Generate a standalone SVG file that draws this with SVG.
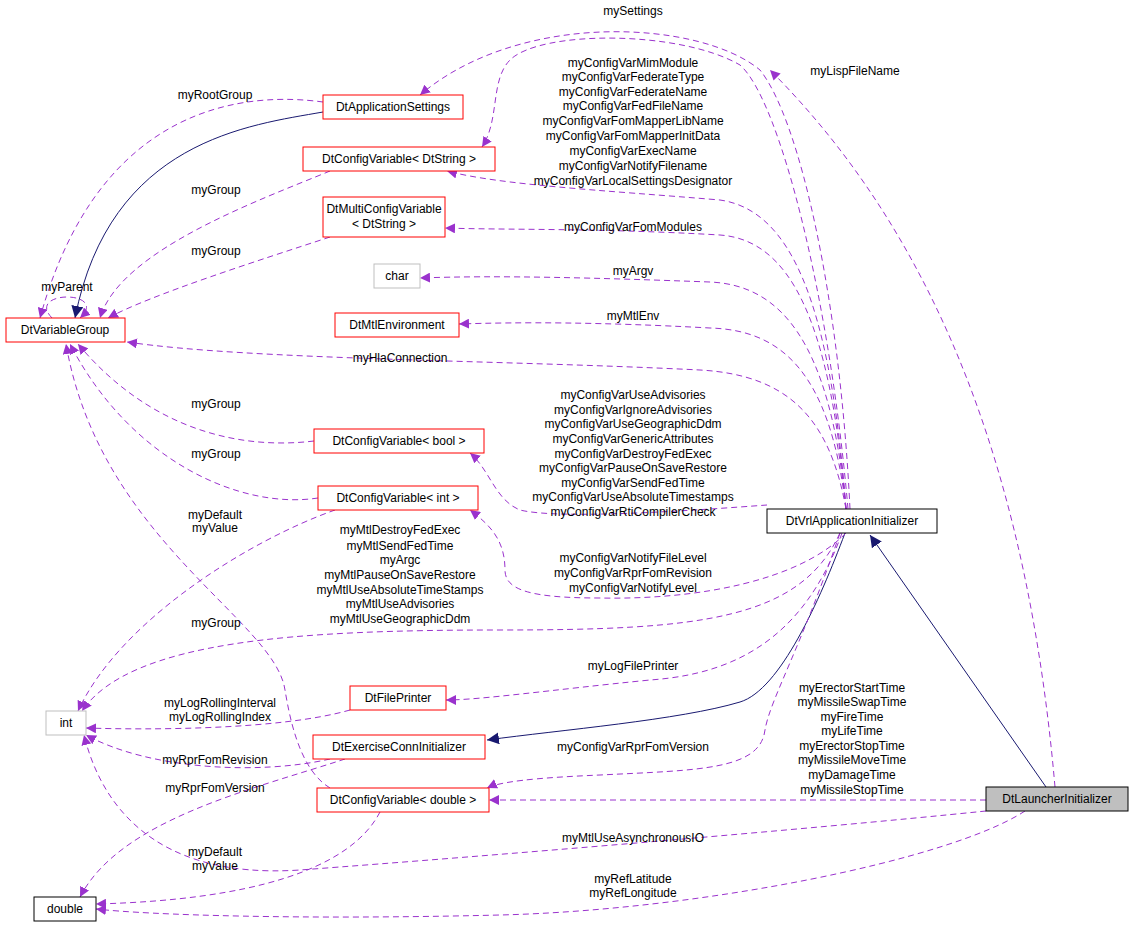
<svg xmlns="http://www.w3.org/2000/svg" width="1133" height="928" viewBox="0 0 1133 928">
<style>
text{font-family:"Liberation Sans",Arial,sans-serif;font-size:12px;fill:#000;text-anchor:middle}
.n{fill:#fff;stroke:#ff0000;stroke-width:1}
.g{fill:#fff;stroke:#bfbfbf;stroke-width:1}
.b{fill:#fff;stroke:#000;stroke-width:1}
.d{fill:none;stroke:#9a32cd;stroke-dasharray:6,4;marker-end:url(#pa)}
.s{fill:none;stroke:#191970;marker-end:url(#na)}
</style>
<defs>
<marker id="pa" viewBox="0 0 10 10" refX="10" refY="5" markerWidth="10" markerHeight="10" markerUnits="userSpaceOnUse" orient="auto"><path d="M0,0L10,5L0,10z" fill="#9a32cd"/></marker>
<marker id="na" viewBox="0 0 10 10" refX="10" refY="5" markerWidth="12" markerHeight="12" markerUnits="userSpaceOnUse" orient="auto"><path d="M0,0L10,5L0,10z" fill="#191970"/></marker>
</defs>
<rect width="1133" height="928" fill="#fff"/>
<g id="edges">
<path class="s" d="M1046,787L870,535"/>
<path class="s" d="M845,533C820,600 780,690 740,702C680,720 560,730 487,740"/>
<path class="s" d="M323,112C250,125 110,140 75,318"/>
<path class="d" d="M323,102C250,92 100,100 40,318"/>
<path class="d" d="M52,318C25,290 110,290 80,318"/>
<path class="d" d="M330,171C260,200 120,250 100,318"/>
<path class="d" d="M330,237C260,260 150,295 108,318"/>
<path class="d" d="M846,509C830,420 790,375 700,370C500,360 250,360 127,342"/>
<path class="d" d="M314,441C240,450 150,430 78,344"/>
<path class="d" d="M318,498C240,510 130,460 70,344"/>
<path class="d" d="M330,788C300,770 290,720 285,690C275,620 100,540 66,344"/>
<path class="d" d="M850,509C840,300 800,120 760,70C700,20 520,10 420,95"/>
<path class="d" d="M848,509C830,300 780,100 740,65C680,30 540,30 510,60C490,80 500,120 482,147"/>
<path class="d" d="M1055,787C1030,500 950,250 770,70"/>
<path class="d" d="M846,509C830,300 790,210 720,200C600,190 500,185 447,171"/>
<path class="d" d="M846,509C830,320 790,240 720,235C600,228 500,230 445,228"/>
<path class="d" d="M846,509C830,340 780,285 710,282C600,278 500,275 420,278"/>
<path class="d" d="M846,509C830,370 780,330 710,328C600,322 520,322 459,324"/>
<path class="d" d="M767,505C700,510 560,520 520,510C495,500 490,470 470,453"/>
<path class="d" d="M846,533C800,580 700,600 600,598C530,598 505,590 505,570C505,540 490,525 470,510"/>
<path class="d" d="M840,533C800,620 700,630 500,630C300,630 130,640 82,711"/>
<path class="d" d="M842,533C800,650 720,675 650,680C550,690 480,700 446,700"/>
<path class="d" d="M840,533C800,650 770,700 765,730C760,770 700,770 600,775C530,778 500,782 487,788"/>
<path class="d" d="M986,800L489,800"/>
<path class="d" d="M986,811C800,830 500,855 300,870C150,880 100,800 84,735"/>
<path class="d" d="M1025,811C950,860 700,910 500,915C300,920 150,915 96,909"/>
<path class="d" d="M380,812C350,870 250,900 96,904"/>
<path class="d" d="M335,510C250,540 120,620 78,711"/>
<path class="d" d="M330,759C260,775 150,770 86,735"/>
<path class="d" d="M345,759C250,790 120,820 80,897"/>
<path class="d" d="M350,710C280,730 150,730 86,728"/>
</g>
<g id="labels">
<text x="633" y="15">mySettings</text>
<text x="855" y="75">myLispFileName</text>
<text x="215" y="99">myRootGroup</text>
<text x="633" y="67">myConfigVarMimModule</text>
<text x="633" y="81">myConfigVarFederateType</text>
<text x="633" y="96">myConfigVarFederateName</text>
<text x="633" y="110">myConfigVarFedFileName</text>
<text x="633" y="125">myConfigVarFomMapperLibName</text>
<text x="633" y="140">myConfigVarFomMapperInitData</text>
<text x="633" y="155">myConfigVarExecName</text>
<text x="633" y="170">myConfigVarNotifyFilename</text>
<text x="633" y="185">myConfigVarLocalSettingsDesignator</text>
<text x="216" y="194">myGroup</text>
<text x="633" y="231">myConfigVarFomModules</text>
<text x="216" y="255">myGroup</text>
<text x="633" y="275">myArgv</text>
<text x="67" y="291">myParent</text>
<text x="633" y="320">myMtlEnv</text>
<text x="400" y="362">myHlaConnection</text>
<text x="633" y="399">myConfigVarUseAdvisories</text>
<text x="633" y="414">myConfigVarIgnoreAdvisories</text>
<text x="633" y="428">myConfigVarUseGeographicDdm</text>
<text x="633" y="443">myConfigVarGenericAttributes</text>
<text x="633" y="458">myConfigVarDestroyFedExec</text>
<text x="633" y="472">myConfigVarPauseOnSaveRestore</text>
<text x="633" y="487">myConfigVarSendFedTime</text>
<text x="633" y="501">myConfigVarUseAbsoluteTimestamps</text>
<text x="633" y="516">myConfigVarRtiCompilerCheck</text>
<text x="216" y="408">myGroup</text>
<text x="216" y="458">myGroup</text>
<text x="215" y="519">myDefault</text>
<text x="215" y="532">myValue</text>
<text x="400" y="534">myMtlDestroyFedExec</text>
<text x="400" y="550">myMtlSendFedTime</text>
<text x="400" y="564">myArgc</text>
<text x="400" y="579">myMtlPauseOnSaveRestore</text>
<text x="400" y="594">myMtlUseAbsoluteTimeStamps</text>
<text x="400" y="608">myMtlUseAdvisories</text>
<text x="400" y="623">myMtlUseGeographicDdm</text>
<text x="633" y="562">myConfigVarNotifyFileLevel</text>
<text x="633" y="577">myConfigVarRprFomRevision</text>
<text x="633" y="592">myConfigVarNotifyLevel</text>
<text x="216" y="627">myGroup</text>
<text x="633" y="670">myLogFilePrinter</text>
<text x="220" y="707">myLogRollingInterval</text>
<text x="220" y="721">myLogRollingIndex</text>
<text x="633" y="751">myConfigVarRprFomVersion</text>
<text x="215" y="764">myRprFomRevision</text>
<text x="215" y="792">myRprFomVersion</text>
<text x="852" y="692">myErectorStartTime</text>
<text x="852" y="706">myMissileSwapTime</text>
<text x="852" y="721">myFireTime</text>
<text x="852" y="735">myLifeTime</text>
<text x="852" y="750">myErectorStopTime</text>
<text x="852" y="764">myMissileMoveTime</text>
<text x="852" y="779">myDamageTime</text>
<text x="852" y="794">myMissileStopTime</text>
<text x="633" y="842">myMtlUseAsynchronousIO</text>
<text x="215" y="856">myDefault</text>
<text x="215" y="870">myValue</text>
<text x="633" y="883">myRefLatitude</text>
<text x="633" y="897">myRefLongitude</text>
</g>
<g id="DtApplicationSettings"><rect class="n" x="323" y="95" width="140" height="24"/><text x="393" y="111">DtApplicationSettings</text></g>
<g id="DtConfigVariableDtString"><rect class="n" x="303" y="147" width="192" height="24"/><text x="399" y="163">DtConfigVariable&lt; DtString &gt;</text></g>
<g id="DtMultiConfigVariable"><rect class="n" x="323" y="197" width="122" height="40"/><text x="384" y="213">DtMultiConfigVariable</text><text x="384" y="228">&lt; DtString &gt;</text></g>
<g id="char"><rect class="g" x="374" y="264" width="46" height="24"/><text x="397" y="280">char</text></g>
<g id="DtMtlEnvironment"><rect class="n" x="335" y="313" width="124" height="24"/><text x="397" y="329">DtMtlEnvironment</text></g>
<g id="DtVariableGroup"><rect class="n" x="6" y="318" width="119" height="24"/><text x="65" y="334">DtVariableGroup</text></g>
<g id="DtConfigVariableBool"><rect class="n" x="314" y="429" width="170" height="24"/><text x="399" y="445">DtConfigVariable&lt; bool &gt;</text></g>
<g id="DtConfigVariableInt"><rect class="n" x="318" y="486" width="160" height="24"/><text x="398" y="502">DtConfigVariable&lt; int &gt;</text></g>
<g id="DtVrlApplicationInitializer"><rect class="b" x="767" y="509" width="170" height="24"/><text x="852" y="525">DtVrlApplicationInitializer</text></g>
<g id="int"><rect class="g" x="46" y="711" width="40" height="24"/><text x="66" y="727">int</text></g>
<g id="DtFilePrinter"><rect class="n" x="350" y="686" width="96" height="24"/><text x="398" y="702">DtFilePrinter</text></g>
<g id="DtExerciseConnInitializer"><rect class="n" x="313" y="735" width="172" height="24"/><text x="399" y="751">DtExerciseConnInitializer</text></g>
<g id="DtConfigVariableDouble"><rect class="n" x="317" y="788" width="172" height="24"/><text x="403" y="804">DtConfigVariable&lt; double &gt;</text></g>
<g id="DtLauncherInitializer"><rect x="986" y="787" width="142" height="24" fill="#bfbfbf" stroke="#000"/><text x="1057" y="803">DtLauncherInitializer</text></g>
<g id="double"><rect class="b" x="34" y="897" width="62" height="24"/><text x="65" y="913">double</text></g>
</svg>
